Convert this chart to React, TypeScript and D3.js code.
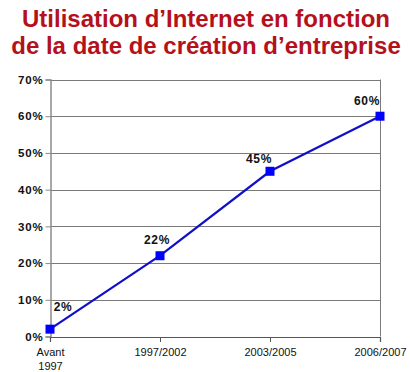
import React, { useEffect, useRef } from "react";
import * as d3 from "d3";

// Data
const categories = ["Avant 1997", "1997/2002", "2003/2005", "2006/2007"];
const usage = [0.02, 0.22, 0.45, 0.6];
const yTicks = [0, 0.1, 0.2, 0.3, 0.4, 0.5, 0.6, 0.7];
const titleLines = [
  "Utilisation d\u2019Internet en fonction",
  "de la date de cr\u00e9ation d\u2019entreprise",
];

// label nudges (x, y) relative to each point
const labelShift: [number, number][] = [
  [13, -18],
  [-3, -12],
  [-11, -8],
  [-13, -11],
];

const App = () => {
  const ref = useRef<SVGSVGElement>(null);

  useEffect(() => {
    const width = 410;
    const height = 372;
    const left = 50;
    const right = 380;
    const top = 79.5;
    const bottom = 336.5;
    const font = "Liberation Sans, Arial, sans-serif";

    const svg = d3.select(ref.current);
    svg.selectAll("*").remove();
    svg.attr("width", width).attr("height", height);

    svg
      .append("rect")
      .attr("width", width)
      .attr("height", height)
      .attr("fill", "#ffffff");

    // Title
    svg
      .append("g")
      .selectAll("text")
      .data(titleLines)
      .enter()
      .append("text")
      .attr("x", 206)
      .attr("y", (d, i) => 27 + i * 27)
      .attr("text-anchor", "middle")
      .attr("font-family", font)
      .attr("font-weight", "bold")
      .attr("font-size", 24)
      .attr("fill", "#b5111b")
      .text((d) => d);

    const x = d3.scalePoint<string>().domain(categories).range([left, right]);
    const y = d3.scaleLinear().domain([0, 0.7]).range([bottom, top]);

    // Horizontal gridlines
    svg
      .append("g")
      .selectAll("line")
      .data(yTicks.slice(1))
      .enter()
      .append("line")
      .attr("x1", left)
      .attr("x2", right)
      .attr("y1", (d) => Math.round(y(d)) + 0.5)
      .attr("y2", (d) => Math.round(y(d)) + 0.5)
      .attr("stroke", "#7a7a7a")
      .attr("stroke-width", 1);

    // Right border
    svg
      .append("line")
      .attr("x1", right + 0.5)
      .attr("x2", right + 0.5)
      .attr("y1", y(0.7))
      .attr("y2", y(0))
      .attr("stroke", "#7a7a7a");

    // Y axis
    const yAxis = svg
      .append("g")
      .attr("transform", `translate(${left + 0.5},0)`)
      .call(
        d3
          .axisLeft(y)
          .tickValues(yTicks)
          .tickSize(5)
          .tickPadding(3)
          .tickFormat(d3.format(".0%"))
      );
    yAxis.select(".domain").attr("stroke", "#8c8c8c").attr("stroke-width", 1.5);
    yAxis.selectAll(".tick line").attr("stroke", "#8c8c8c");
    yAxis
      .selectAll("text")
      .attr("x", -7)
      .attr("font-family", font)
      .attr("font-weight", "bold")
      .attr("font-size", 11.5)
      .attr("letter-spacing", 0.8)
      .attr("fill", "#111");

    // X axis
    const xAxis = svg
      .append("g")
      .attr("transform", `translate(0,${bottom + 0.5})`)
      .call(d3.axisBottom(x).tickSize(5).tickPadding(6));
    xAxis.select(".domain").attr("stroke", "#555").attr("stroke-width", 1.2);
    xAxis.selectAll(".tick line").attr("stroke", "#555");
    xAxis
      .selectAll<SVGTextElement, string>("text")
      .attr("font-family", font)
      .attr("font-size", 11)
      .attr("fill", "#111")
      .each(function (d) {
        const el = d3.select(this);
        const parts = d.split(" ");
        el.text(null);
        parts.forEach((p, i) => {
          el.append("tspan")
            .attr("x", 0)
            .attr("dy", i === 0 ? "0.71em" : "1.3em")
            .text(p);
        });
      });

    const points = categories.map((c, i) => ({ c, v: usage[i], i }));

    // Line
    svg
      .append("path")
      .datum(points)
      .attr(
        "d",
        d3
          .line<{ c: string; v: number }>()
          .x((d) => x(d.c) as number)
          .y((d) => y(d.v))
      )
      .attr("fill", "none")
      .attr("stroke", "#1010c8")
      .attr("stroke-width", 2.2);

    // Markers
    svg
      .append("g")
      .selectAll("rect")
      .data(points)
      .enter()
      .append("rect")
      .attr("x", (d) => (x(d.c) as number) - 4.5)
      .attr("y", (d) => y(d.v) - 4.5)
      .attr("width", 9)
      .attr("height", 9)
      .attr("fill", "#0000ff");

    // Data labels
    svg
      .append("g")
      .selectAll("text")
      .data(points)
      .enter()
      .append("text")
      .attr("x", (d) => (x(d.c) as number) + labelShift[d.i][0])
      .attr("y", (d) => y(d.v) + labelShift[d.i][1])
      .attr("text-anchor", "middle")
      .attr("font-family", font)
      .attr("font-weight", "bold")
      .attr("font-size", 12)
      .attr("letter-spacing", 0.6)
      .attr("fill", "#111")
      .text((d) => d3.format(".0%")(d.v));
  }, []);

  return (
    <svg
      ref={ref}
      style={{ position: "absolute", left: 0, top: 0, display: "block" }}
    />
  );
};

export default App;
